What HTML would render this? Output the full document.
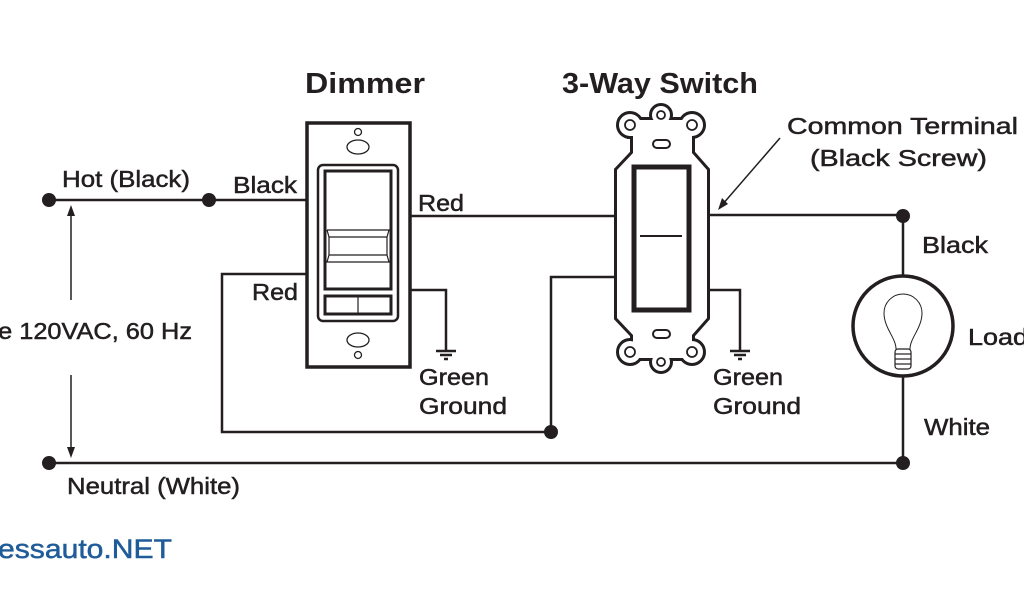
<!DOCTYPE html>
<html><head><style>
body{margin:0;background:#fff;}
svg{display:block;font-family:"Liberation Sans",Arial,sans-serif;}
text{fill:#231f20;}
</style></head><body>
<svg width="1024" height="600" viewBox="0 0 1024 600" xmlns="http://www.w3.org/2000/svg">
<g stroke="#231f20" fill="none" stroke-width="2.5">
<line x1="49" y1="200" x2="306" y2="200"/>
<line x1="410" y1="216" x2="617" y2="216"/>
<line x1="707" y1="215" x2="903" y2="215"/>
<line x1="903" y1="215" x2="903" y2="276"/>
<line x1="903" y1="376" x2="903" y2="463"/>
<line x1="49" y1="463" x2="903" y2="463"/>
<polyline points="306,274 222,274 222,432 551,432 551,277 617,277"/>
<polyline points="410,290 446,290 446,350"/>
<polyline points="707,290 740,290 740,350"/>
<line x1="436" y1="351" x2="456" y2="351"/><line x1="440" y1="355" x2="452" y2="355"/><line x1="444" y1="359" x2="448" y2="359"/>
<line x1="730" y1="351" x2="750" y2="351"/><line x1="734" y1="355" x2="746" y2="355"/><line x1="738" y1="359" x2="742" y2="359"/>
<line x1="71" y1="212" x2="71" y2="300" stroke-width="1.5"/>
<line x1="71" y1="375" x2="71" y2="452" stroke-width="1.5"/>
<line x1="780" y1="138" x2="722" y2="205" stroke-width="1.5"/>
</g>
<polygon points="71,205 67,216 75,216" fill="#231f20"/>
<polygon points="71,458 67,447 75,447" fill="#231f20"/>
<polygon points="718,210 722,198 728,204" fill="#231f20"/>
<g fill="#231f20">
<circle cx="49" cy="200" r="7"/><circle cx="209" cy="200" r="7"/>
<circle cx="49" cy="463" r="7"/><circle cx="903" cy="463" r="7"/>
<circle cx="903" cy="216" r="7"/><circle cx="551" cy="432" r="7"/>
</g>
<!-- dimmer -->
<g stroke="#231f20" fill="#fff">
<rect x="307" y="123" width="103" height="244" stroke-width="3.5"/>
<rect x="318" y="165" width="80" height="156" rx="5" stroke-width="2.5"/>
<rect x="325" y="171" width="66" height="118" stroke-width="3"/>
<polyline points="327,230 389,230 387,237 387,255 389,262 327,262 329,255 329,237 327,230" stroke-width="1.2" fill="none"/>
<line x1="329" y1="237" x2="387" y2="237" stroke-width="1.2"/>
<line x1="329" y1="255" x2="387" y2="255" stroke-width="1.2"/>
<rect x="325" y="296" width="66" height="18" stroke-width="3"/>
<line x1="358" y1="296" x2="358" y2="314" stroke-width="1.2"/>
<circle cx="358" cy="132" r="3.5" stroke-width="1.3"/>
<ellipse cx="358" cy="147" rx="11" ry="7" stroke-width="1.3"/>
<ellipse cx="358" cy="340" rx="11" ry="7" stroke-width="1.3"/>
<circle cx="358" cy="355" r="3.5" stroke-width="1.3"/>
</g>
<!-- 3-way switch: union outline -->
<g stroke="#231f20" stroke-width="6" fill="#231f20">
<polygon points="617,170 633,153 633,135 692,135 692,153 707,170 707,318 692,335 692,345 633,345 633,335 617,318"/>
<circle cx="630" cy="125" r="11"/><circle cx="692" cy="125" r="11"/>
<circle cx="630" cy="352" r="11"/><circle cx="692" cy="352" r="11"/>
<circle cx="661" cy="115" r="9"/><circle cx="661" cy="362" r="9"/>
<rect x="630" y="120" width="62" height="16"/><rect x="630" y="342" width="62" height="16"/>
</g>
<g fill="#fff">
<polygon points="617,170 633,153 633,135 692,135 692,153 707,170 707,318 692,335 692,345 633,345 633,335 617,318"/>
<circle cx="630" cy="125" r="11"/><circle cx="692" cy="125" r="11"/>
<circle cx="630" cy="352" r="11"/><circle cx="692" cy="352" r="11"/>
<circle cx="661" cy="115" r="9"/><circle cx="661" cy="362" r="9"/>
<rect x="630" y="120" width="62" height="16"/><rect x="630" y="342" width="62" height="16"/>
</g>
<g stroke="#231f20" fill="#fff">
<circle cx="630" cy="125" r="5" stroke-width="1.8"/><circle cx="692" cy="125" r="5" stroke-width="1.8"/>
<circle cx="630" cy="352" r="5" stroke-width="1.8"/><circle cx="692" cy="352" r="5" stroke-width="1.8"/>
<circle cx="661" cy="115" r="4" stroke-width="1.8"/><circle cx="661" cy="362" r="4" stroke-width="1.8"/>
<rect x="653" y="140" width="17" height="8" rx="4" stroke-width="2"/>
<rect x="653" y="330" width="17" height="8" rx="4" stroke-width="2"/>
<rect x="634" y="167" width="55" height="143" stroke-width="5"/>
<line x1="640" y1="236" x2="682" y2="236" stroke-width="2"/>
</g>
<!-- bulb -->
<circle cx="903" cy="326" r="50" fill="#fff" stroke="#231f20" stroke-width="3.5"/>
<path d="M896,349 C896,338 884,328 884,313 A19,19 0 1 1 922,313 C922,328 910,338 910,349 Z" fill="#fff" stroke="#231f20" stroke-width="1"/>
<g stroke="#231f20" stroke-width="1.2" fill="none">
<rect x="895" y="349" width="16" height="20" rx="3"/>
<line x1="895" y1="354" x2="911" y2="354"/><line x1="895" y1="359" x2="911" y2="359"/><line x1="895" y1="364" x2="911" y2="364"/>
</g>
<g font-size="23" stroke="#231f20" stroke-width="0.5" lengthAdjust="spacingAndGlyphs">
<text x="62" y="187" textLength="128" lengthAdjust="spacingAndGlyphs">Hot (Black)</text>
<text x="233" y="193" textLength="64" lengthAdjust="spacingAndGlyphs">Black</text>
<text x="418" y="211" textLength="46" lengthAdjust="spacingAndGlyphs">Red</text>
<text x="252" y="300" textLength="46" lengthAdjust="spacingAndGlyphs">Red</text>
<text x="-16" y="339" textLength="208" lengthAdjust="spacingAndGlyphs">ne 120VAC, 60 Hz</text>
<text x="419" y="385" textLength="70" lengthAdjust="spacingAndGlyphs">Green</text>
<text x="419" y="414" textLength="88" lengthAdjust="spacingAndGlyphs">Ground</text>
<text x="713" y="385" textLength="70" lengthAdjust="spacingAndGlyphs">Green</text>
<text x="713" y="414" textLength="88" lengthAdjust="spacingAndGlyphs">Ground</text>
<text x="922" y="253" textLength="66" lengthAdjust="spacingAndGlyphs">Black</text>
<text x="968" y="345" textLength="60" lengthAdjust="spacingAndGlyphs">Load</text>
<text x="924" y="435" textLength="66" lengthAdjust="spacingAndGlyphs">White</text>
<text x="67" y="494" textLength="173" lengthAdjust="spacingAndGlyphs">Neutral (White)</text>
<text x="787" y="134" textLength="231" lengthAdjust="spacingAndGlyphs">Common Terminal</text>
<text x="810" y="166" textLength="177" lengthAdjust="spacingAndGlyphs">(Black Screw)</text>
</g>
<text x="305" y="93" font-size="29" font-weight="bold" textLength="120" lengthAdjust="spacingAndGlyphs">Dimmer</text>
<text x="562" y="93" font-size="29" font-weight="bold" textLength="196" lengthAdjust="spacingAndGlyphs">3-Way Switch</text>
<text x="-2" y="558" font-size="27" style="fill:#1f5c99" stroke="#1f5c99" stroke-width="0.5" textLength="174" lengthAdjust="spacingAndGlyphs">essauto.NET</text>
</svg>
</body></html>
